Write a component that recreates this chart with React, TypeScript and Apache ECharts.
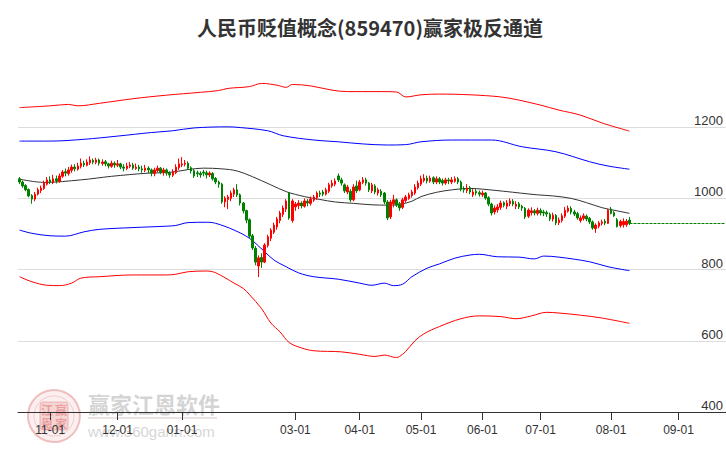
import React, { useEffect, useRef } from "react";
import * as echarts from "echarts";

// ---- categories (trading days) ----
const START_DATE = "2023-10-18";
const CATEGORY_COUNT = 231;
const HOLIDAYS = [
  "2024-01-01", "2024-02-09", "2024-02-12", "2024-02-13", "2024-02-14", "2024-02-15", "2024-02-16",
  "2024-04-04", "2024-04-05", "2024-05-01", "2024-05-02", "2024-05-03", "2024-06-10",
  "2024-09-16", "2024-09-17",
];
const TICK_MONTHS = ["11", "12", "01", "03", "04", "05", "06", "07", "08", "09"];
const Y_TICKS = [400, 600, 800, 1000, 1200];

function tradingDays(start: string, count: number): string[] {
  const out: string[] = [];
  const d = new Date(start + "T00:00:00Z");
  while (out.length < count) {
    const dow = d.getUTCDay();
    const s = d.toISOString().slice(0, 10);
    if (dow !== 0 && dow !== 6 && !HOLIDAYS.includes(s)) out.push(s);
    d.setUTCDate(d.getUTCDate() + 1);
  }
  return out;
}

// ---- candles [open, close, low, high] ----
const oct = [
  [1055, 1046, 1040, 1060], [1046, 1035, 1030, 1050], [1036, 1024, 1020, 1040], [1025, 1007, 1003, 1028],
  [1008, 998, 985, 1012], [998, 1012, 992, 1018], [1012, 1024, 1008, 1030], [1022, 1029, 1015, 1036],
  [1028, 1043, 1024, 1050], [1040, 1052, 1036, 1060],
];
const nov = [
  [1052, 1046, 1040, 1062], [1045, 1055, 1040, 1066], [1055, 1049, 1042, 1064], [1048, 1063, 1044, 1070],
  [1062, 1074, 1058, 1080], [1075, 1071, 1062, 1084], [1070, 1080, 1064, 1088], [1079, 1088, 1072, 1095],
  [1088, 1083, 1076, 1096], [1082, 1091, 1078, 1100], [1090, 1099, 1084, 1112], [1099, 1094, 1088, 1106],
  [1093, 1102, 1090, 1110], [1100, 1108, 1094, 1118], [1107, 1102, 1096, 1112], [1101, 1108, 1096, 1114],
  [1108, 1099, 1092, 1112], [1098, 1102, 1092, 1110], [1103, 1097, 1090, 1108], [1097, 1091, 1084, 1100],
  [1090, 1099, 1086, 1106], [1099, 1094, 1086, 1104],
];
const dec = [
  [1093, 1097, 1088, 1108], [1097, 1088, 1082, 1100], [1088, 1085, 1076, 1096], [1084, 1091, 1080, 1100],
  [1090, 1094, 1085, 1102], [1094, 1085, 1080, 1100], [1084, 1088, 1080, 1098], [1088, 1083, 1076, 1094],
  [1083, 1080, 1072, 1092], [1079, 1085, 1074, 1094], [1085, 1080, 1070, 1090], [1080, 1071, 1062, 1084],
  [1070, 1080, 1062, 1086], [1078, 1085, 1074, 1092], [1085, 1074, 1068, 1088], [1073, 1080, 1064, 1086],
  [1080, 1071, 1064, 1084], [1071, 1066, 1058, 1076], [1065, 1074, 1060, 1082], [1072, 1088, 1068, 1096],
  [1086, 1097, 1080, 1112],
];
const jan = [
  [1094, 1097, 1088, 1116], [1096, 1099, 1090, 1108], [1099, 1085, 1080, 1104], [1086, 1077, 1070, 1090],
  [1078, 1063, 1058, 1082], [1072, 1069, 1060, 1078], [1070, 1066, 1058, 1076], [1074, 1071, 1062, 1080],
  [1072, 1066, 1056, 1078], [1066, 1071, 1060, 1076], [1070, 1055, 1050, 1074], [1056, 1046, 1040, 1060],
  [1046, 1040, 1030, 1050], [1040, 990, 985, 1044], [990, 1001, 975, 1006], [997, 1004, 970, 1010],
  [1000, 1015, 992, 1022], [1012, 1024, 1004, 1030], [1024, 1010, 1004, 1040], [1010, 987, 980, 1014],
  [987, 965, 958, 990], [966, 939, 930, 968],
];
const feb = [
  [940, 894, 888, 944], [895, 861, 855, 900], [860, 821, 812, 866], [810, 833, 779, 840],
  [834, 821, 805, 846], [821, 869, 818, 874], [868, 892, 862, 898], [888, 911, 880, 916],
  [905, 925, 900, 932], [920, 942, 912, 948], [938, 959, 930, 965], [955, 973, 948, 980],
  [970, 993, 962, 998], [1015, 945, 940, 1018], [938, 993, 932, 998],
];
const mar = [
  [976, 984, 965, 990], [980, 987, 970, 995], [987, 979, 972, 992], [978, 993, 974, 1000],
  [992, 987, 978, 998], [986, 998, 980, 1005], [995, 1004, 990, 1010], [1002, 1015, 996, 1020],
  [1015, 1012, 1004, 1022], [1018, 1012, 1006, 1024], [1012, 1024, 1008, 1030], [1020, 1038, 1015, 1044],
  [1035, 1043, 1030, 1052], [1040, 1049, 1034, 1056], [1063, 1052, 1046, 1070], [1052, 1043, 1036, 1058],
  [1038, 1021, 1015, 1042], [1018, 1032, 1012, 1038], [1020, 996, 990, 1026], [996, 1032, 992, 1040],
  [1035, 1021, 1015, 1050],
];
const apr = [
  [1024, 1046, 1020, 1052], [1045, 1052, 1040, 1060], [1052, 1043, 1036, 1058], [1043, 1024, 1018, 1046],
  [1021, 1038, 1015, 1044], [1035, 1018, 1012, 1040], [1015, 1024, 1008, 1030], [1020, 1010, 1004, 1026],
  [1015, 990, 984, 1018], [990, 945, 939, 995], [948, 990, 942, 996], [985, 996, 975, 1010],
  [996, 981, 976, 1000], [985, 973, 965, 990], [975, 996, 970, 1002], [994, 1004, 988, 1010],
  [1000, 1010, 996, 1016], [1008, 1018, 1002, 1024], [1015, 1032, 1010, 1040], [1030, 1043, 1025, 1050],
];
const may = [
  [1040, 1055, 1035, 1064], [1050, 1057, 1045, 1068], [1057, 1049, 1042, 1064], [1048, 1057, 1044, 1064],
  [1058, 1046, 1040, 1062], [1046, 1055, 1040, 1062], [1055, 1046, 1040, 1060], [1050, 1043, 1036, 1056],
  [1043, 1052, 1038, 1058], [1052, 1049, 1040, 1058], [1046, 1052, 1040, 1060], [1048, 1055, 1044, 1062],
  [1055, 1046, 1040, 1060], [1046, 1026, 1020, 1050], [1028, 1024, 1016, 1034], [1022, 1029, 1015, 1040],
  [1030, 1018, 1012, 1035], [1010, 1018, 1004, 1026], [1020, 1015, 1008, 1028], [1016, 1012, 1005, 1022],
];
const jun = [
  [1010, 1015, 1004, 1022], [1015, 1001, 996, 1018], [1002, 984, 978, 1006], [984, 959, 952, 988],
  [962, 973, 955, 980], [968, 976, 960, 984], [975, 987, 968, 994], [988, 981, 975, 992],
  [978, 987, 970, 995], [985, 993, 978, 1000], [992, 984, 978, 998], [978, 984, 970, 992],
  [985, 976, 970, 990], [978, 973, 965, 982], [972, 948, 942, 976], [950, 967, 945, 972],
  [960, 965, 952, 975], [965, 959, 952, 970], [958, 967, 952, 974],
];
const jul = [
  [966, 959, 952, 972], [962, 959, 950, 968], [960, 956, 948, 966], [955, 942, 936, 960],
  [942, 953, 935, 960], [952, 931, 925, 956], [932, 939, 925, 946], [938, 951, 932, 958],
  [950, 967, 945, 976], [964, 973, 960, 980], [972, 962, 955, 978], [962, 956, 950, 968],
  [957, 945, 940, 962], [938, 945, 932, 952], [944, 951, 938, 958], [950, 942, 936, 955],
  [944, 934, 928, 948], [934, 917, 912, 938], [915, 925, 903, 930], [922, 931, 916, 936],
  [930, 934, 924, 940], [936, 931, 925, 942], [930, 967, 928, 970],
];
const aug = [
  [970, 958, 955, 976], [960, 951, 948, 964], [940, 921, 918, 945], [924, 935, 918, 940],
  [926, 935, 918, 944], [926, 936, 920, 942], [939, 930, 925, 948],
];

// ---- channel lines [categoryIndex, value] ----
const maLine = [
  [0, 1054], [8, 1045], [20, 1052], [30, 1062], [42, 1071], [49, 1073], [55, 1081], [60, 1085],
  [66, 1083], [71, 1077], [76, 1061], [82, 1038], [87, 1019], [93, 1005], [98, 997], [103, 990],
  [109, 986], [115, 982], [120, 981], [124, 983], [128, 992], [131, 1005], [136, 1017], [141, 1024],
  [147, 1028], [151, 1026], [158, 1020], [169, 1010], [174, 1007], [180, 1000], [185, 988],
  [190, 974], [195, 965], [199, 958],
];
const blueUpper = [
  [0, 1161], [10, 1161], [21, 1166], [32, 1175], [43, 1185], [50, 1190], [57, 1198], [68, 1201],
  [72, 1199], [81, 1190], [86, 1176], [96, 1164], [104, 1159], [112, 1153], [120, 1150], [126, 1151],
  [131, 1159], [141, 1164], [154, 1164], [164, 1145], [175, 1131], [186, 1103], [192, 1091], [199, 1082],
];
const blueLower = [
  [0, 911], [4, 902], [10, 895], [15, 894], [21, 906], [26, 913], [37, 918], [48, 922], [51, 924],
  [55, 932], [61, 933], [64, 930], [70, 911], [75, 888], [80, 850], [83, 827], [87, 808], [91, 791],
  [96, 780], [104, 773], [111, 762], [115, 756], [119, 762], [122, 755], [125, 759], [128, 780],
  [133, 804], [137, 816], [142, 832], [147, 841], [150, 843], [156, 836], [163, 835], [168, 830],
  [171, 838], [176, 835], [186, 822], [192, 808], [199, 797],
];
const redUpper = [
  [0, 1255], [10, 1260], [16, 1264], [19, 1260], [26, 1267], [37, 1280], [48, 1290], [59, 1298],
  [65, 1303], [68, 1309], [75, 1314], [79, 1323], [84, 1318], [87, 1312], [89, 1320], [95, 1316],
  [102, 1304], [107, 1300], [112, 1300], [118, 1300], [123, 1299], [126, 1285], [131, 1291],
  [137, 1293], [147, 1291], [157, 1285], [163, 1276], [170, 1262], [176, 1248], [183, 1234],
  [190, 1212], [199, 1189],
];
const redLower = [
  [0, 780], [4, 766], [9, 756], [13, 755], [17, 762], [20, 776], [26, 780], [37, 785], [48, 785],
  [51, 787], [55, 794], [61, 796], [64, 791], [70, 762], [73, 747], [75, 730], [79, 690], [82, 650],
  [85, 625], [88, 595], [92, 580], [96, 572], [105, 569], [111, 562], [116, 556], [119, 560],
  [123, 553], [124, 556], [126, 570], [129, 600], [132, 620], [137, 640], [144, 662], [150, 670],
  [157, 668], [162, 662], [167, 670], [172, 680], [176, 678], [183, 672], [190, 664], [199, 649],
];

const TITLE = "人民币贬值概念(859470)赢家极反通道";

export default function App() {
  const ref = useRef<HTMLDivElement>(null);

  useEffect(() => {
    if (!ref.current) return;
    const chart = echarts.init(ref.current, undefined, { renderer: "svg" });
    const dates = tradingDays(START_DATE, CATEGORY_COUNT);
    const candles = [...oct, ...nov, ...dec, ...jan, ...feb, ...mar, ...apr, ...may, ...jun, ...jul, ...aug];
    const lastIdx = candles.length - 1;
    const lastClose = candles[lastIdx][1];
    const isTick = (index: number) => {
      if (index <= 0) return false;
      const m = dates[index].slice(5, 7);
      return m !== dates[index - 1].slice(5, 7) && TICK_MONTHS.includes(m);
    };
    const lineSeries = (data: number[][], color: string) => ({
      type: "line",
      data,
      showSymbol: false,
      smooth: 0.35,
      silent: true,
      z: 2,
      lineStyle: { color, width: 1 },
    });
    const wm = "rgba(225,120,120,";
    chart.setOption({
      animation: false,
      backgroundColor: "#ffffff",
      grid: { left: 18, right: 0, top: 56, bottom: 38 },
      xAxis: {
        type: "category",
        data: dates,
        boundaryGap: true,
        axisLine: { show: true, lineStyle: { color: "#333", width: 1 } },
        axisTick: { show: true, alignWithLabel: true, length: 8, interval: (i: number) => isTick(i), lineStyle: { color: "#333" } },
        axisLabel: {
          interval: (i: number) => isTick(i),
          formatter: (v: string) => v.slice(5, 7) + "-01",
          color: "#333",
          fontSize: 12,
          fontFamily: "Liberation Sans, Arial, sans-serif",
          margin: 12,
        },
        splitLine: { show: false },
      },
      yAxis: {
        type: "value",
        position: "right",
        min: 400,
        max: 1400,
        interval: 200,
        axisLine: { show: false },
        axisTick: { show: false },
        axisLabel: {
          inside: true,
          verticalAlign: "bottom",
          margin: 3,
          color: "#333",
          fontSize: 13,
          fontFamily: "Liberation Sans, Arial, sans-serif",
          showMaxLabel: false,
          formatter: (v: number) => (Y_TICKS.includes(v) ? String(v) : ""),
        },
        splitLine: { show: true, showMaxLine: false, lineStyle: { color: "#dcdcdc", width: 1 } },
      },
      graphic: [
        { type: "circle", z: -5, shape: { cx: 54, cy: 416, r: 26 }, style: { fill: wm + "0.12)", stroke: wm + "0.45)", lineWidth: 2 } },
        { type: "circle", z: -5, shape: { cx: 54, cy: 416, r: 20 }, style: { fill: "none", stroke: wm + "0.3)", lineWidth: 1 } },
        { type: "rect", z: -5, shape: { x: 40, y: 402, width: 28, height: 28, r: 3 }, style: { fill: wm + "0.22)", stroke: wm + "0.45)", lineWidth: 1 } },
        { type: "text", z: -4, x: 47, y: 409, style: { text: "江", font: "bold 12px 'Noto Sans CJK SC'", fill: wm + "0.6)", textAlign: "center", textVerticalAlign: "middle" } },
        { type: "text", z: -4, x: 61, y: 409, style: { text: "赢", font: "bold 12px 'Noto Sans CJK SC'", fill: wm + "0.6)", textAlign: "center", textVerticalAlign: "middle" } },
        { type: "text", z: -4, x: 47, y: 423, style: { text: "恩", font: "bold 12px 'Noto Sans CJK SC'", fill: wm + "0.6)", textAlign: "center", textVerticalAlign: "middle" } },
        { type: "text", z: -4, x: 61, y: 423, style: { text: "家", font: "bold 12px 'Noto Sans CJK SC'", fill: wm + "0.6)", textAlign: "center", textVerticalAlign: "middle" } },
        { type: "text", z: -4, x: 88, y: 403, style: { text: "赢家江恩软件", font: "bold 22px 'Noto Sans CJK SC'", fill: "rgba(170,170,170,0.5)", textAlign: "left", textVerticalAlign: "middle" } },
        { type: "rect", z: -5, shape: { x: 88, y: 417, width: 129, height: 2 }, style: { fill: "rgba(200,170,170,0.35)" } },
        { type: "text", z: -4, x: 88, y: 431, style: { text: "www.360gann.com", font: "15px 'Liberation Sans', Arial, sans-serif", fill: "rgba(170,170,170,0.5)", textAlign: "left", textVerticalAlign: "middle" } },
        { type: "text", z: 10, x: 370, y: 27, style: { text: TITLE, font: "bold 20px 'Noto Sans CJK SC'", fill: "#333", textAlign: "center", textVerticalAlign: "middle" } },
      ],
      series: [
        lineSeries(redUpper, "#ff0000"),
        lineSeries(blueUpper, "#0000ff"),
        lineSeries(maLine, "#333333"),
        lineSeries(blueLower, "#0000ff"),
        lineSeries(redLower, "#ff0000"),
        {
          type: "candlestick",
          data: candles,
          barWidth: 2,
          z: 3,
          itemStyle: {
            color: "#ff0000",
            color0: "#008000",
            borderColor: "#ff0000",
            borderColor0: "#008000",
            borderWidth: 1,
          },
          markLine: {
            silent: true,
            symbol: ["none", "none"],
            label: { show: false },
            lineStyle: { color: "#008000", type: [3, 1], width: 1 },
            data: [[{ coord: [lastIdx, lastClose] }, { coord: [CATEGORY_COUNT - 1, lastClose] }]],
          },
        },
      ],
    });
    return () => chart.dispose();
  }, []);

  return <div ref={ref} style={{ position: "fixed", left: 0, top: 0, width: 726, height: 450 }} />;
}
